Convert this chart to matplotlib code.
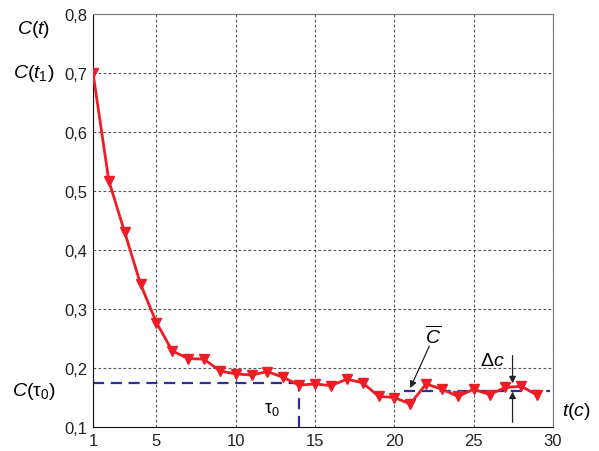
import numpy as np
import matplotlib.pyplot as plt

plt.rcParams['font.family'] = ['Liberation Sans', 'DejaVu Sans']
plt.rcParams['mathtext.fontset'] = 'custom'
plt.rcParams['mathtext.rm'] = 'Liberation Sans'
plt.rcParams['mathtext.it'] = 'Liberation Sans:italic'

# данные
t = np.arange(1, 30)
c = [0.700, 0.517, 0.430, 0.342, 0.277, 0.229, 0.216, 0.215, 0.195, 0.190,
     0.188, 0.194, 0.184, 0.171, 0.173, 0.170, 0.181, 0.175, 0.152, 0.150,
     0.139, 0.173, 0.164, 0.152, 0.164, 0.155, 0.167, 0.169, 0.154]
tau0 = 14
c_tau0 = 0.174
c_mean = 0.161
c_mean_t = [20.6, 29.8]
dc_t = 27.45
dc_lo, dc_hi = 0.160, 0.174

xticks = [1, 5, 10, 15, 20, 25, 30]
yticks = [0.1, 0.2, 0.3, 0.4, 0.5, 0.6, 0.7, 0.8]

fig = plt.figure(figsize=(5.99, 4.52), dpi=100)
ax = fig.add_axes([93/599, 1-428/452, 460/599, 413/452])

ax.plot(t, c, color='#ee1c25', lw=2, marker='v', ms=7, zorder=3)
ax.plot([1, tau0], [c_tau0, c_tau0], color='#2e3192', lw=1.6, ls=(0, (5, 3)), zorder=2)
ax.plot([tau0, tau0], [0.1, c_tau0], color='#2e3192', lw=1.6, ls=(0, (5, 3)), zorder=2)
ax.plot(c_mean_t, [c_mean, c_mean], color='#2e3192', lw=1.6, ls=(0, (5, 3)), zorder=2)

# стрелки
arr = dict(arrowstyle='-|>', color='#222222', lw=0.9, mutation_scale=10,
           shrinkA=0, shrinkB=0)
ax.annotate('', xy=(dc_t, dc_hi), xytext=(dc_t, 0.221), arrowprops=arr)
ax.annotate('', xy=(dc_t, dc_lo), xytext=(dc_t, 0.108), arrowprops=arr)
ax.annotate('', xy=(21.0, 0.166), xytext=(22.2, 0.237), arrowprops=arr)

ax.text(22.45, 0.256, r'$\overline{C}$', fontsize=14, ha='center', va='center')
ax.text(26.2, 0.212, r'$\Delta c$', fontsize=14, ha='center', va='center')
ax.text(12.3, 0.131, r'$\mathrm{\tau}_0$', fontsize=13, ha='center', va='center')

fig.text(34/599, 1-29/452, r'$C(t)$', fontsize=14, ha='center', va='center')
fig.text(34/599, 1-74/452, r'$C(t_1)$', fontsize=14, ha='center', va='center')
fig.text(34/599, 1-392/452, r'$C(\mathrm{\tau}_0)$', fontsize=14, ha='center', va='center')
fig.text(576/599, 1-412/452, r'$t(c)$', fontsize=14, ha='center', va='center')

ax.set_xlim(1, 30)
ax.set_ylim(0.1, 0.8)
ax.set_xticks(xticks)
ax.set_yticks(yticks)
ax.set_yticklabels([f'{v:.1f}'.replace('.', ',') for v in yticks])
ax.tick_params(length=0, labelsize=12, colors='#222222', pad=4)
ax.grid(True, color='#555555', ls=(0, (2.5, 2)), lw=0.8)
for s in ['top', 'right']:
    ax.spines[s].set_color('#777777')
for s in ['left', 'bottom']:
    ax.spines[s].set_color('#111111')

fig.savefig('out.png', dpi=100)
